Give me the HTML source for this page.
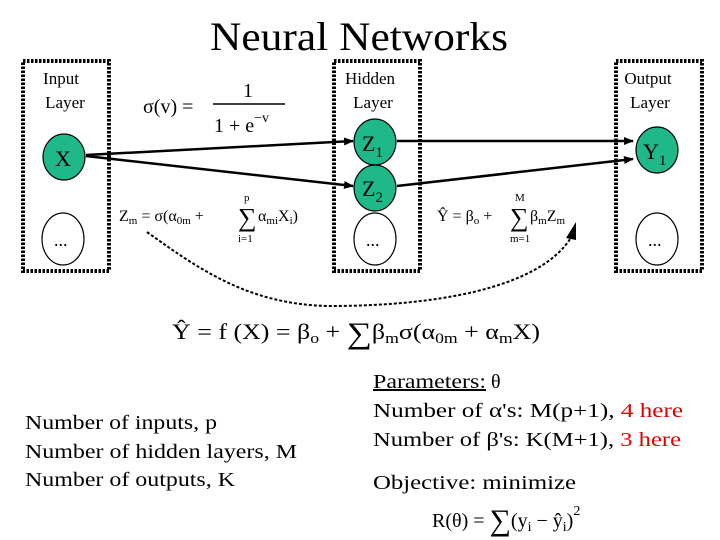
<!DOCTYPE html>
<html><head><style>
body{margin:0;background:#fff;}
svg{display:block;font-family:"Liberation Serif",serif;}
</style></head><body>
<svg width="720" height="540" viewBox="0 0 720 540">
<defs><marker id="a" markerWidth="10" markerHeight="8" refX="9" refY="4" orient="auto" markerUnits="userSpaceOnUse"><path d="M0,0 L10,4 L0,8z" fill="#000"/></marker></defs>
<text x="210" y="50" font-size="40" textLength="298" lengthAdjust="spacingAndGlyphs">Neural Networks</text>
<g fill="none" stroke="#000" stroke-width="4" stroke-dasharray="2.5,1.5">
<rect x="23" y="61" width="86" height="210"/>
<rect x="334" y="61" width="86" height="210"/>
<rect x="616" y="61" width="86" height="210"/>
</g>
<g font-size="17" text-anchor="middle">
<text x="61" y="84">Input</text><text x="65" y="108">Layer</text>
<text x="370" y="84">Hidden</text><text x="373" y="108">Layer</text>
<text x="648" y="84">Output</text><text x="650" y="108">Layer</text>
</g>
<g stroke="#000" stroke-width="2.5" fill="none">
<line x1="86" y1="155" x2="353" y2="141" marker-end="url(#a)"/>
<line x1="86" y1="156" x2="353" y2="186" marker-end="url(#a)"/>
<line x1="397" y1="141" x2="633" y2="141" marker-end="url(#a)"/>
<line x1="397" y1="186" x2="633" y2="159" marker-end="url(#a)"/>
<path d="M147 232 C200 270 250 305 330 306 C430 306 540 290 572 236" stroke-width="2" stroke-dasharray="3,2"/>
</g>
<path d="M566 238 L576 222 L576 240z" fill="#000"/>
<g stroke="#000" stroke-width="1.2" fill="#1fb888">
<ellipse cx="64" cy="157" rx="21" ry="23"/>
<ellipse cx="375" cy="142" rx="21" ry="23"/>
<ellipse cx="375" cy="188" rx="21" ry="23"/>
<ellipse cx="657" cy="150" rx="21" ry="23"/>
</g>
<g stroke="#000" stroke-width="1.2" fill="#fff">
<ellipse cx="63" cy="239" rx="21" ry="26"/>
<ellipse cx="375" cy="239" rx="21" ry="26"/>
<ellipse cx="657" cy="239" rx="21" ry="26"/>
</g>
<g font-size="22">
<text x="55" y="166">X</text>
<text x="362" y="151">Z<tspan font-size="15" dy="6">1</tspan></text>
<text x="362" y="196">Z<tspan font-size="15" dy="6">2</tspan></text>
<text x="643" y="159">Y<tspan font-size="15" dy="6">1</tspan></text>
</g>
<g font-size="18"><text x="54" y="246">...</text><text x="366" y="246">...</text><text x="648" y="246">...</text></g>
<g font-size="20">
<text x="143" y="113">σ(v) =</text>
<text x="243" y="97">1</text>
<line x1="213" y1="104" x2="285" y2="104" stroke="#000" stroke-width="1.5"/>
<text x="214" y="132">1 + e<tspan font-size="14" dy="-10">−v</tspan></text>
</g>
<g font-size="16">
<text x="119" y="221">Z<tspan font-size="11" dy="3">m</tspan><tspan dy="-3"> = σ(α</tspan><tspan font-size="11" dy="3">0m</tspan><tspan dy="-3"> + </tspan></text>
<text x="238" y="226" font-size="26">∑</text>
<text x="244" y="201" font-size="11">p</text>
<text x="238" y="242" font-size="11">i=1</text>
<text x="258" y="221">α<tspan font-size="11" dy="3">mi</tspan><tspan dy="-3">X</tspan><tspan font-size="11" dy="3">i</tspan><tspan dy="-3">)</tspan></text>
<text x="437" y="221">Ŷ = β<tspan font-size="11" dy="3">o</tspan><tspan dy="-3"> + </tspan></text>
<text x="510" y="226" font-size="26">∑</text>
<text x="515" y="201" font-size="11">M</text>
<text x="510" y="242" font-size="11">m=1</text>
<text x="530" y="221">β<tspan font-size="11" dy="3">m</tspan><tspan dy="-3">Z</tspan><tspan font-size="11" dy="3">m</tspan></text>
</g>
<g font-size="22">
<text x="172" y="339" textLength="368" lengthAdjust="spacingAndGlyphs">Ŷ = f (X) = β<tspan font-size="15" dy="4">o</tspan><tspan dy="-4"> + </tspan><tspan font-size="30" dy="4">∑</tspan><tspan dy="-4">β</tspan><tspan font-size="15" dy="4">m</tspan><tspan dy="-4">σ(α</tspan><tspan font-size="15" dy="4">0m</tspan><tspan dy="-4"> + α</tspan><tspan font-size="15" dy="4">m</tspan><tspan dy="-4">X)</tspan></text>
</g>
<g font-size="20">
<text x="25" y="429" textLength="192" lengthAdjust="spacingAndGlyphs">Number of inputs, p</text>
<text x="25" y="458" textLength="272" lengthAdjust="spacingAndGlyphs">Number of hidden layers, M</text>
<text x="25" y="486" textLength="210" lengthAdjust="spacingAndGlyphs">Number of outputs, K</text>
<text x="373" y="388" text-decoration="underline" textLength="113" lengthAdjust="spacingAndGlyphs">Parameters:</text><text x="491" y="388">θ</text>
<text x="373" y="417" textLength="310" lengthAdjust="spacingAndGlyphs">Number of α's:  M(p+1),  <tspan fill="#e00000">4 here</tspan></text>
<text x="373" y="446" textLength="308" lengthAdjust="spacingAndGlyphs">Number of β's: K(M+1),  <tspan fill="#e00000">3 here</tspan></text>
<text x="373" y="489" textLength="203" lengthAdjust="spacingAndGlyphs">Objective:  minimize</text>
<text x="432" y="527">R(θ) = <tspan font-size="30" dy="3">∑</tspan><tspan dy="-3">(y</tspan><tspan font-size="14" dy="4">i</tspan><tspan dy="-4"> − ŷ</tspan><tspan font-size="14" dy="4">i</tspan><tspan dy="-4">)</tspan><tspan font-size="14" dy="-12">2</tspan></text>
</g>
</svg>
</body></html>
